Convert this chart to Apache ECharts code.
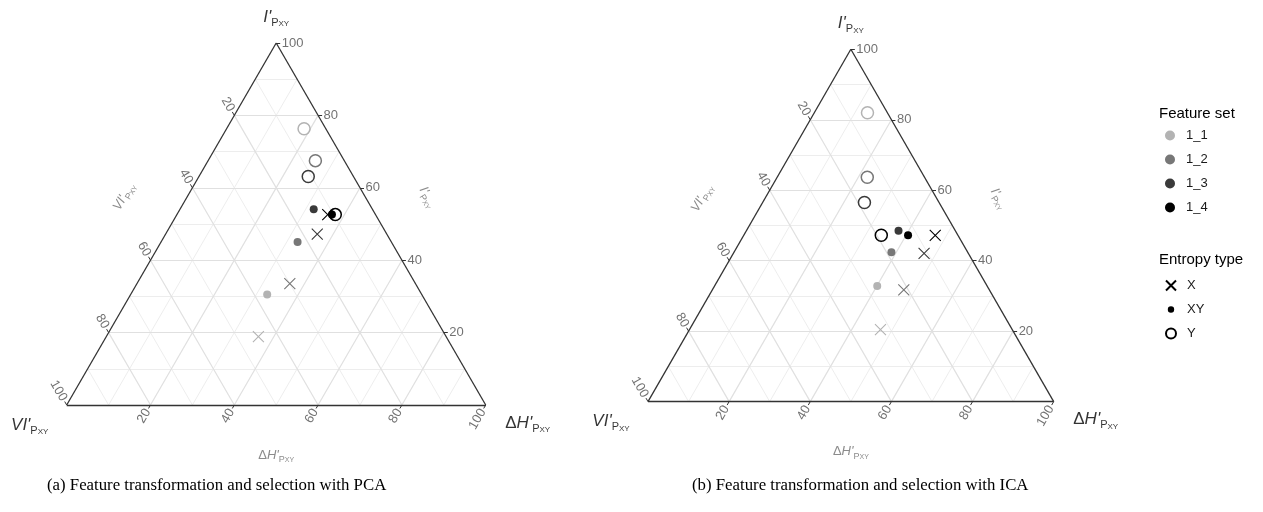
<!DOCTYPE html>
<html>
<head>
<meta charset="utf-8">
<title>Ternary plots PCA / ICA</title>
<script src="https://cdn.jsdelivr.net/npm/echarts@6/dist/echarts.min.js"></script>
<style>
    html, body { margin: 0; padding: 0; background: #fff; }
    #main { width: 1263px; height: 512px; }
</style>
</head>
<body>
<div id="main"></div>
<script>
// ---- data ----
const featureSets = ["1_1", "1_2", "1_3", "1_4"];
const entropyTypes = ["X", "XY", "Y"];
const tickValues = [20, 40, 60, 80, 100];
const gridSteps = [10, 20, 30, 40, 50, 60, 70, 80, 90];

// one row per feature set, columns follow entropyTypes (X, XY, Y)
const pcaI  = [[18.9, 30.5, 76.3], [33.5, 45.0, 67.5], [47.2, 54.1, 63.1], [52.6, 52.6, 52.6]];
const pcaDH = [[36.3, 32.6, 18.5], [36.5, 32.6, 25.6], [36.2, 31.9, 26.1], [36.0, 37.0, 37.8]];
const pcaVI = [[44.8, 36.9, 5.2], [30.0, 22.4, 6.9], [16.6, 14.0, 10.8], [11.4, 10.4, 9.6]];

const icaI  = [[20.4, 32.8, 82.0], [31.7, 42.4, 63.7], [42.1, 48.5, 56.5], [47.2, 47.2, 47.2]];
const icaDH = [[47.1, 40.1, 13.1], [47.2, 38.8, 22.2], [47.0, 37.5, 25.1], [47.2, 40.5, 33.9]];
const icaVI = [[32.5, 27.1, 4.9], [21.1, 18.8, 14.1], [10.9, 14.0, 18.4], [5.6, 12.3, 18.9]];

const captions = [
    "(a) Feature transformation and selection with PCA",
    "(b) Feature transformation and selection with ICA"
];

// ---- layout / style ----
const panels = [
    {left: 66.7, top: 43, width: 419, height: 362},
    {left: 648, top: 49.3, width: 405.7, height: 352.3}
];
const setColors = ["#b3b3b3", "#777777", "#3a3a3a", "#000000"];
const crossPath = "path://M0,0L10,10M0,10L10,0";
const dotPath = "path://M0,0L0.01,0M10,10L9.99,10M5,1.8A3.2,3.2,0,1,1,4.99,1.8Z";
const font = "Liberation Sans";

// ternary (I', dH', VI') -> cartesian value space [0..100] x [0..100]
function tern(i, dh, vi) {
    const s = i + dh + vi;
    return [(dh + i / 2) / s * 100, i / s * 100];
}
// move a value-space point by pixels
function shift(pt, g, dx, dy) {
    return [pt[0] + dx / g.width * 100, pt[1] - dy / g.height * 100];
}

function richTitle(big, sub, subsub, color) {
    return {
        d: {fontSize: big, color: color, fontFamily: font, lineHeight: big + 5},
        i: {fontSize: big, color: color, fontFamily: font, fontStyle: "italic", lineHeight: big + 5},
        p: {fontSize: sub, color: color, fontFamily: font, verticalAlign: "bottom", lineHeight: sub},
        s: {fontSize: subsub, color: color, fontFamily: font, verticalAlign: "bottom", lineHeight: subsub}
    };
}
const txtI = "{i|I'}{p|P}{s|XY}";
const txtVI = "{i|VI'}{p|P}{s|XY}";
const txtDH = "{d|\u0394}{i|H'}{p|P}{s|XY}";

function labelPoint(pt, text, rotate, align, rich) {
    return {
        value: pt,
        label: {show: true, position: "inside", formatter: text, rotate: rotate,
                align: align, verticalAlign: "middle", rich: rich}
    };
}

function panelSeries(p, I, DH, VI) {
    const g = panels[p];
    const base = {xAxisIndex: p, yAxisIndex: p, silent: true, animation: false, clip: false};
    const out = [];

    const minor = [], major = [];
    gridSteps.forEach(k => {
        const segs = [
            [tern(k, 100 - k, 0), tern(k, 0, 100 - k)],
            [tern(0, k, 100 - k), tern(100 - k, k, 0)],
            [tern(0, 100 - k, k), tern(100 - k, 0, k)]
        ];
        (k % 20 === 0 ? major : minor).push(...segs.map(c => ({coords: c})));
    });
    out.push(Object.assign({type: "lines", coordinateSystem: "cartesian2d", z: 1,
        lineStyle: {color: "#ebebeb", width: 0.9, opacity: 1}, data: minor}, base));
    out.push(Object.assign({type: "lines", coordinateSystem: "cartesian2d", z: 2,
        lineStyle: {color: "#e0e0e0", width: 1.2, opacity: 1}, data: major}, base));

    const A = tern(100, 0, 0), L = tern(0, 0, 100), R = tern(0, 100, 0);
    out.push(Object.assign({type: "lines", coordinateSystem: "cartesian2d", z: 3,
        lineStyle: {color: "#333333", width: 1.3, opacity: 1},
        data: [{coords: [A, R]}, {coords: [R, L]}, {coords: [L, A]}]}, base));

    // ticks and tick labels
    const axes = [
        {pt: t => tern(t, 100 - t, 0), dir: [1, 0], rot: 0, align: "left"},
        {pt: t => tern(100 - t, 0, t), dir: [-0.5, -0.866], rot: -60, align: "right"},
        {pt: t => tern(0, t, 100 - t), dir: [-0.5, 0.866], rot: 60, align: "right"}
    ];
    const tickSegs = [], tickLabels = [];
    axes.forEach(a => {
        tickValues.forEach(t => {
            const q = a.pt(t);
            tickSegs.push({coords: [q, shift(q, g, a.dir[0] * 4, a.dir[1] * 4)]});
            const lp = shift(q, g, a.dir[0] * 5.5, a.dir[1] * 5.5);
            tickLabels.push({
                value: lp,
                label: {show: true, position: "inside", formatter: String(t), rotate: a.rot,
                        align: a.align, verticalAlign: "middle",
                        fontSize: 13, color: "#4d4d4d", fontFamily: font}
            });
        });
    });
    out.push(Object.assign({type: "lines", coordinateSystem: "cartesian2d", z: 3,
        lineStyle: {color: "#333333", width: 1, opacity: 1}, data: tickSegs}, base));
    out.push(Object.assign({type: "scatter", z: 4, symbolSize: 1,
        itemStyle: {color: "rgba(0,0,0,0)"}, data: tickLabels}, base));

    // vertex titles and edge titles
    const big = richTitle(17, 11, 8, "#000");
    const small = richTitle(13, 9, 7, "#6e6e6e");
    const midL = [(A[0] + L[0]) / 2, (A[1] + L[1]) / 2];
    const midR = [(A[0] + R[0]) / 2, (A[1] + R[1]) / 2];
    const midB = [(L[0] + R[0]) / 2, (L[1] + R[1]) / 2];
    out.push(Object.assign({type: "scatter", z: 4, symbolSize: 1,
        itemStyle: {color: "rgba(0,0,0,0)"},
        data: [
            labelPoint(shift(A, g, 0, -26), txtI, 0, "center", big),
            labelPoint(shift(L, g, -37, 20), txtVI, 0, "center", big),
            labelPoint(shift(R, g, 42, 18), txtDH, 0, "center", big),
            labelPoint(shift(midL, g, -0.866 * 55, -0.5 * 55), txtVI, 60, "center", small),
            labelPoint(shift(midR, g, 0.866 * 54, -0.5 * 54), txtI, -60, "center", small),
            labelPoint(shift(midB, g, 0, 50), txtDH, 0, "center", small)
        ]}, base));

    // data points
    featureSets.forEach((name, f) => {
        const c = setColors[f];
        out.push(Object.assign({type: "scatter", name: name, z: 10 + f,
            itemStyle: {color: c, opacity: 1},
            data: entropyTypes.map((e, j) => {
                const v = tern(I[f][j], DH[f][j], VI[f][j]);
                if (e === "X") {
                    return {value: v, symbol: crossPath, symbolSize: 11,
                            itemStyle: {color: "rgba(0,0,0,0)", borderColor: c, borderWidth: 1.1, opacity: 1}};
                }
                if (e === "XY") {
                    return {value: v, symbol: "circle", symbolSize: 8, itemStyle: {color: c, opacity: 1}};
                }
                return {value: v, symbol: "circle", symbolSize: 12,
                        itemStyle: {color: "rgba(0,0,0,0)", borderColor: c, borderWidth: 1.5, opacity: 1}};
            })}, base));
    });
    return out;
}

const chart = echarts.init(document.getElementById("main"), null, {renderer: "canvas"});

const series = [].concat(
    panelSeries(0, pcaI, pcaDH, pcaVI),
    panelSeries(1, icaI, icaDH, icaVI)
);
// legend-only series for entropy type
series.push({type: "scatter", name: "X", xAxisIndex: 0, yAxisIndex: 0, data: [],
    itemStyle: {color: "rgba(0,0,0,0)", borderColor: "#000", borderWidth: 0.8, opacity: 1}});
series.push({type: "scatter", name: "XY", xAxisIndex: 0, yAxisIndex: 0, data: [],
    itemStyle: {color: "#000", opacity: 1}});
series.push({type: "scatter", name: "Y", xAxisIndex: 0, yAxisIndex: 0, data: [],
    itemStyle: {color: "rgba(0,0,0,0)", borderColor: "#000", borderWidth: 1.2, opacity: 1}});

const entropyIcons = [crossPath, dotPath, "circle"];

const option = {
    animation: false,
    textStyle: {fontFamily: font},
    title: [
        {text: captions[0], left: 47, top: 477, padding: 0,
         textStyle: {fontFamily: "Liberation Serif", fontSize: 16.8, fontWeight: "normal", color: "#000"}},
        {text: captions[1], left: 692, top: 477, padding: 0,
         textStyle: {fontFamily: "Liberation Serif", fontSize: 16.8, fontWeight: "normal", color: "#000"}},
        {text: "Feature set", left: 1159, top: 106, padding: 0,
         textStyle: {fontFamily: font, fontSize: 15, fontWeight: "normal", color: "#000"}},
        {text: "Entropy type", left: 1159, top: 252, padding: 0,
         textStyle: {fontFamily: font, fontSize: 15, fontWeight: "normal", color: "#000"}}
    ],
    legend: [
        {data: featureSets.map(n => ({name: n, icon: "circle"})),
         orient: "vertical", left: 1165, top: 129, padding: 0,
         itemWidth: 22, itemHeight: 10, itemGap: 11, selectedMode: false,
         textStyle: {fontSize: 13, color: "#1a1a1a", fontFamily: font}},
        {data: entropyTypes.map((n, j) => ({name: n, icon: entropyIcons[j]})),
         orient: "vertical", left: 1165, top: 279, padding: 0,
         itemWidth: 22, itemHeight: 10, itemGap: 11, selectedMode: false,
         textStyle: {fontSize: 13, color: "#1a1a1a", fontFamily: font}}
    ],
    grid: panels.map(g => ({left: g.left, top: g.top, width: g.width, height: g.height, containLabel: false})),
    xAxis: panels.map((g, p) => ({type: "value", gridIndex: p, min: 0, max: 100, show: false})),
    yAxis: panels.map((g, p) => ({type: "value", gridIndex: p, min: 0, max: 100, show: false})),
    series: series
};
chart.setOption(option);
</script>
</body>
</html>
